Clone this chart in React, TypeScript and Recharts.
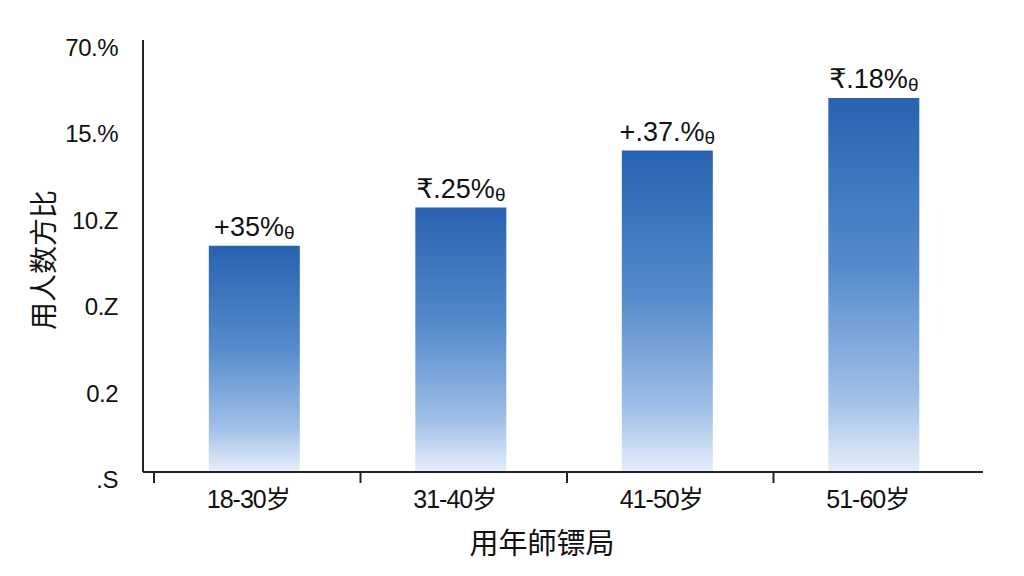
import React from 'react';
import { BarChart, Bar, XAxis, YAxis, LabelList } from 'recharts';

// values (y axis uses 6 evenly spaced tick slots)
const ageGroups = ['18-30岁', '31-40岁', '41-50岁', '51-60岁'];
const shareValues = [2.62, 3.06, 3.72, 4.33];
const barTags = ['+35%', '₹.25%', '+.37.%', '₹.18%'];
const yTickValues = [0, 1, 2, 3, 4, 5];
const yTickLabels = ['.S', '0.2', '0.Z', '10.Z', '15.%', '70.%'];

const data = ageGroups.map((group, i) => ({ group, share: shareValues[i], tag: barTags[i] }));

const W = 1024;
const H = 576;
const PLOT_LEFT = 143;
const PLOT_RIGHT = 983;
const PAD_L = 8;
const PAD_R = 6;
const BAND = (PLOT_RIGHT - PLOT_LEFT - PAD_L - PAD_R) / ageGroups.length;

const narrow = "'Liberation Sans Narrow', 'Liberation Sans', 'Noto Sans CJK SC', sans-serif";
const cjk = "'Noto Sans CJK SC', sans-serif";

function XTick(props: any) {
  const { x, y, payload } = props;
  const tx = x - BAND / 2 + 3;
  return (
    <g>
      <line x1={tx} y1={y} x2={tx} y2={y + 11} stroke="#222" strokeWidth={2} />
      <text x={x - 6} y={y + 36} textAnchor="middle" fontSize={25} letterSpacing={-1} fill="#111" fontFamily={narrow}>
        {payload.value}
      </text>
    </g>
  );
}

function YTick(props: any) {
  const { x, y, payload } = props;
  return (
    <text x={x} y={y + 16} textAnchor="end" fontSize={24} letterSpacing={-0.5} fill="#111" fontFamily={narrow}>
      {yTickLabels[payload.value]}
    </text>
  );
}

function TagLabel(props: any) {
  const { x, y, width, value } = props;
  return (
    <text x={x + width / 2} y={y - 10} textAnchor="middle" fontSize={27} fill="#111" fontFamily="'Liberation Sans', 'DejaVu Sans', sans-serif">
      {value}
      <tspan fontSize={19} dy={3}>θ</tspan>
    </text>
  );
}

function YTitle() {
  return (
    <text transform="translate(42,260) rotate(-90)" textAnchor="middle" dominantBaseline="central" fontSize={28} fill="#111" fontFamily={cjk}>
      用人数方比
    </text>
  );
}

function XTitle() {
  return (
    <text x={542} y={541} textAnchor="middle" dominantBaseline="central" fontSize={29} fill="#111" fontFamily={cjk}>
      用年師镖局
    </text>
  );
}

export default function App() {
  return (
    <div style={{ position: 'absolute', left: 0, top: 0, width: W, height: H, background: '#fff' }}>
      <BarChart width={W} height={H} data={data} margin={{ top: 40, right: W - PLOT_RIGHT, bottom: 44, left: 0 }} barCategoryGap="28%">
        <defs>
          <linearGradient id="barFade" x1="0" y1="0" x2="0" y2="1">
            <stop offset="0%" stopColor="#2862b0" />
            <stop offset="45%" stopColor="#558bcc" />
            <stop offset="80%" stopColor="#9fbfe7" />
            <stop offset="100%" stopColor="#e6eefa" />
          </linearGradient>
        </defs>
        <XAxis
          dataKey="group"
          height={60}
          padding={{ left: PAD_L, right: PAD_R }}
          axisLine={{ stroke: '#222', strokeWidth: 2 }}
          tickLine={false}
          tickSize={0}
          tickMargin={0}
          tick={<XTick />}
          interval={0}
          label={XTitle}
        />
        <YAxis
          width={PLOT_LEFT}
          domain={[0, 5]}
          ticks={yTickValues}
          axisLine={{ stroke: '#222', strokeWidth: 2 }}
          tickLine={false}
          tickSize={0}
          tickMargin={25}
          tick={<YTick />}
          interval={0}
          label={YTitle}
        />
        <Bar dataKey="share" fill="url(#barFade)" isAnimationActive={false}>
          <LabelList dataKey="tag" content={<TagLabel />} />
        </Bar>
      </BarChart>
    </div>
  );
}
